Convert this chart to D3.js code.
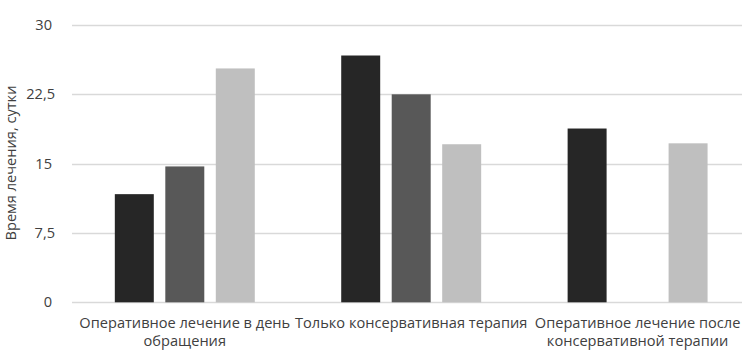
<!DOCTYPE html>
<html>
<head>
<meta charset="utf-8">
<script src="https://cdn.jsdelivr.net/npm/d3@7"></script>
<style>
  body { margin: 0; background: #fff; }
  text { font-family: "Open Sans", "Noto Sans", sans-serif; fill: #404040; }
</style>
</head>
<body>
<div id="chart"></div>
<script>
// categories (line breaks as in the original)
const categories = [
  "Оперативное лечение в день\nобращения",
  "Только консервативная терапия",
  "Оперативное лечение после\nконсервативной терапии",
];
// three series, null = no bar
const series1 = [11.7, 26.7, 18.8];
const series2 = [14.7, 22.5, null];
const series3 = [25.3, 17.1, 17.2];
const seriesNames = ["s1", "s2", "s3"];
const colors = ["#262626", "#585858", "#bfbfbf"];

const yTicks = [0, 7.5, 15, 22.5, 30];
const yTitle = "Время лечения, сутки";

//svg size
const width = 753;
const height = 363;
const fontSize = 14.6;

const svg = d3.select("#chart")
    .append("svg")
    .attr("width", width)
    .attr("height", height);

const y = d3.scaleLinear().domain([0, 30]).range([302.3, 25]);

const x = d3.scaleBand().domain(categories).range([71.6, 750.8]);

const xInner = d3.scaleBand()
    .domain(seriesNames)
    .range([0, x.bandwidth()])
    .paddingInner(0.228)
    .paddingOuter(0.856);

//gridlines
svg.append("g")
    .selectAll("line")
    .data(yTicks)
    .join("line")
    .attr("x1", 72)
    .attr("x2", 742)
    .attr("y1", (d) => Math.round(y(d)) + 0.5)
    .attr("y2", (d) => Math.round(y(d)) + 0.5)
    .attr("stroke", "#d9d9d9")
    .attr("stroke-width", 1.3);

//y tick labels (decimal ones stick out a bit, like in the original)
const fmt = (d) => String(d).replace(".", ",");
svg.append("g")
    .selectAll("text")
    .data(yTicks)
    .join("text")
    .attr("x", (d) => (Number.isInteger(d) ? 52 : 55))
    .attr("y", (d) => y(d))
    .attr("dy", "0.35em")
    .attr("text-anchor", "end")
    .attr("font-size", fontSize)
    .text(fmt);

//y title
svg.append("text")
    .attr("transform", `translate(15.5,163) rotate(-90)`)
    .attr("text-anchor", "middle")
    .attr("font-size", fontSize)
    .text(yTitle);

//bars
const rows = categories.map((c, i) => ({
  cat: c,
  vals: [series1[i], series2[i], series3[i]],
}));

svg.append("g")
    .selectAll("g")
    .data(rows)
    .join("g")
    .attr("transform", (d) => `translate(${x(d.cat)},0)`)
    .selectAll("rect")
    .data((d) => d.vals.map((v, j) => ({ v, key: seriesNames[j], j })).filter((e) => e.v != null))
    .join("rect")
    .attr("x", (d) => xInner(d.key))
    .attr("width", xInner.bandwidth())
    .attr("y", (d) => y(d.v))
    .attr("height", (d) => y(0) - y(d.v))
    .attr("fill", (d) => colors[d.j]);

//x labels
const xl = svg.append("g")
    .selectAll("text")
    .data(categories)
    .join("text")
    .attr("x", (d) => x(d) + x.bandwidth() / 2)
    .attr("y", 327.5)
    .attr("text-anchor", "middle")
    .attr("font-size", fontSize);

xl.selectAll("tspan")
    .data((d) => d.split("\n"))
    .join("tspan")
    .attr("x", function () { return this.parentNode.getAttribute("x"); })
    .attr("dy", (d, i) => (i === 0 ? 0 : 18.5))
    .text((d) => d);
</script>
</body>
</html>
